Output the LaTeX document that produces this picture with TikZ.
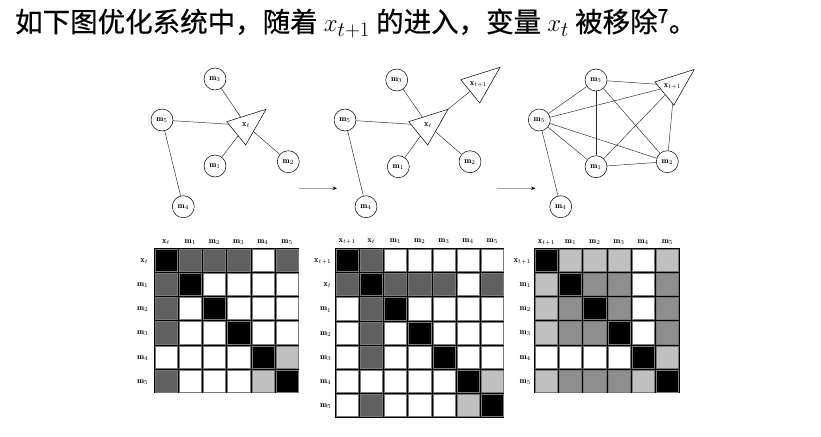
\documentclass[tikz,border=0pt]{standalone}
\usepackage{fontspec}
\newfontfamily\cjk[FakeBold=0.6]{Noto Sans CJK SC}
\usetikzlibrary{arrows.meta}
\definecolor{cK}{gray}{0}
\definecolor{cD}{HTML}{606060}
\definecolor{cM}{HTML}{8E8E8E}
\definecolor{cL}{HTML}{C0C0C0}
\definecolor{cW}{gray}{1}
\definecolor{cellline}{HTML}{7A7A7A}
\newcommand\mymat[4]{%
  \fill[black] (#1,#2) rectangle ({#1+#3*24.2},{#2+#3*24.2});
  \foreach \rw [count=\ii from 0] in {#4} {
    \foreach \cc [count=\jj from 0] in \rw {
      \filldraw[fill=c\cc, draw=cellline, line width=0.5pt]
        ({#1+\jj*24.2+1.0},{#2+\ii*24.2+1.0}) rectangle ++(22.2,22.2);
    }
  }%
}
\tikzset{
  lbl/.style={inner sep=0pt, font=\fontsize{8.5}{10}\selectfont},
  circ/.style={circle, draw, line width=0.5pt, minimum size=22pt, inner sep=0pt, fill=white, font=\fontsize{8.5}{10}\selectfont},
  edge/.style={line width=0.45pt, draw=black!85},
  tri/.style={line width=0.5pt, draw=black, fill=white},
  flow/.style={draw=gray!70, line width=1pt, -{Stealth[black, length=4.5pt, width=3.5pt]}},
}
\begin{document}
\begin{tikzpicture}[x=1pt, y=-1pt]
\useasboundingbox (0,0) rectangle (821,436);

% title
\node[anchor=base west, inner sep=0pt, font=\fontsize{27.5}{31}\selectfont] (title) at (15,32)
  {\cjk 如下图优化系统中，随着 $x_{t+1}$ 的进入，变量 $x_t$ 被移除\textsuperscript{7}。};

% ---------------- graph 1 ----------------
\coordinate (Axt) at (246.1,125.3);
\node[circ] (Am3) at (215,79) {$\mathbf{m}_3$};
\node[circ] (Am5) at (162,120) {$\mathbf{m}_5$};
\node[circ] (Am1) at (215,166) {$\mathbf{m}_1$};
\node[circ] (Am2) at (288.3,161.7) {$\mathbf{m}_2$};
\node[circ] (Am4) at (183.3,206.7) {$\mathbf{m}_4$};
\draw[edge] (Am3) -- (Axt);
\draw[edge] (Am5) -- (Axt);
\draw[edge] (Am1) -- (Axt);
\draw[edge] (Am2) -- (Axt);
\draw[edge] (Am5) -- (Am4);
\coordinate (AxtA) at (266,109.3);
\draw[tri] (AxtA) -- ++(-39.3,12.4) -- ++(19,23.3) -- cycle;
\node[lbl] (Axtl) at (Axt) {$\mathbf{x}_t$};

% ---------------- graph 2 ----------------
\coordinate (Bxt) at (428.1,125.3);
\coordinate (Bxu) at (480.1,83.3);
\node[circ] (Bm3) at (396.7,80) {$\mathbf{m}_3$};
\node[circ] (Bm5) at (345,120) {$\mathbf{m}_5$};
\node[circ] (Bm1) at (398.3,166.7) {$\mathbf{m}_1$};
\node[circ] (Bm2) at (470,161.7) {$\mathbf{m}_2$};
\node[circ] (Bm4) at (366,206.7) {$\mathbf{m}_4$};
\draw[edge] (Bm3) -- (Bxt);
\draw[edge] (Bm5) -- (Bxt);
\draw[edge] (Bm1) -- (Bxt);
\draw[edge] (Bm2) -- (Bxt);
\draw[edge] (Bm5) -- (Bm4);
\draw[edge] (Bxt) -- (Bxu);
\coordinate (BxtA) at (448,109.3);
\draw[tri] (BxtA) -- ++(-39.3,12.4) -- ++(19,23.3) -- cycle;
\coordinate (BxuA) at (500,67.3);
\draw[tri] (BxuA) -- ++(-39.3,12.4) -- ++(19,23.3) -- cycle;
\node[lbl] (Bxtl) at (Bxt) {$\mathbf{x}_t$};
\node[lbl] (Bxul) at (478.5,84.5) {$\mathbf{x}_{t+1}$};

% ---------------- graph 3 ----------------
\coordinate (Cxu) at (674.3,85.5);
\node[circ] (Cm3) at (596,80) {$\mathbf{m}_3$};
\node[circ] (Cm5) at (539.3,120) {$\mathbf{m}_5$};
\node[circ] (Cm1) at (596,166.7) {$\mathbf{m}_1$};
\node[circ] (Cm2) at (667.3,161.7) {$\mathbf{m}_2$};
\node[circ] (Cm4) at (560.7,206.7) {$\mathbf{m}_4$};
\draw[edge] (Cm3) -- (Cm5);
\draw[edge] (Cm3) -- (Cxu);
\draw[edge] (Cm3) -- (Cm1);
\draw[edge] (Cm3) -- (Cm2);
\draw[edge] (Cm5) -- (Cxu);
\draw[edge] (Cm5) -- (Cm1);
\draw[edge] (Cm5) -- (Cm2);
\draw[edge] (Cm5) -- (Cm4);
\draw[edge] (Cm1) -- (Cm2);
\draw[edge] (Cm1) -- (Cxu);
\draw[edge] (Cm2) -- (Cxu);
\coordinate (CxuA) at (694.2,69.5);
\draw[tri] (CxuA) -- ++(-39.3,12.4) -- ++(19,23.3) -- cycle;
\node[lbl] (Cxul) at (672.5,86.5) {$\mathbf{x}_{t+1}$};

% arrows
\coordinate (ar1s) at (299,188.3);
\coordinate (ar1e) at (337,188.3);
\coordinate (ar2s) at (496.7,188.3);
\coordinate (ar2e) at (535.5,188.3);
\draw[flow] (ar1s) -- (ar1e);
\draw[flow] (ar2s) -- (ar2e);

% ---------------- matrix 1 ----------------
\mymat{154}{248}{6}{{K,D,D,D,W,D},{D,K,W,W,W,W},{D,W,K,W,W,W},{D,W,W,K,W,W},{W,W,W,W,K,L},{D,W,W,W,L,K}}
\foreach \lab [count=\k from 0] in {{\mathbf{x}_t},{\mathbf{m}_1},{\mathbf{m}_2},{\mathbf{m}_3},{\mathbf{m}_4},{\mathbf{m}_5}} {
  \node[lbl, anchor=base] (Pc\k) at ({154+\k*24.2+12.1},243) {$\lab$};
  \node[lbl, anchor=base east] (Pr\k) at (148.5,{248+\k*24.2+14.2}) {$\lab$};
}

% ---------------- matrix 2 ----------------
\mymat{335}{248.3}{7}{{K,D,W,W,W,W,W},{D,K,D,D,D,W,D},{W,D,K,W,W,W,W},{W,D,W,K,W,W,W},{W,D,W,W,K,W,W},{W,W,W,W,W,K,L},{W,D,W,W,W,L,K}}
\foreach \lab [count=\k from 0] in {{\mathbf{x}_{t+1}},{\mathbf{x}_t},{\mathbf{m}_1},{\mathbf{m}_2},{\mathbf{m}_3},{\mathbf{m}_4},{\mathbf{m}_5}} {
  \node[lbl, anchor=base] (Qc\k) at ({335+\k*24.2+12.1},242.5) {$\lab$};
  \node[lbl, anchor=base east] (Qr\k) at (331.5,{248.3+\k*24.2+14.2}) {$\lab$};
}

% ---------------- matrix 3 ----------------
\mymat{534.3}{248}{6}{{K,L,L,L,W,L},{L,K,M,M,W,M},{L,M,K,M,W,M},{L,M,M,K,W,M},{W,W,W,W,K,L},{L,M,M,M,L,K}}
\foreach \lab [count=\k from 0] in {{\mathbf{x}_{t+1}},{\mathbf{m}_1},{\mathbf{m}_2},{\mathbf{m}_3},{\mathbf{m}_4},{\mathbf{m}_5}} {
  \node[lbl, anchor=base] (Sc\k) at ({534.3+\k*24.2+12.1},243) {$\lab$};
  \node[lbl, anchor=base east] (Sr\k) at (531,{248+\k*24.2+14.2}) {$\lab$};
}
\end{tikzpicture}
\end{document}
